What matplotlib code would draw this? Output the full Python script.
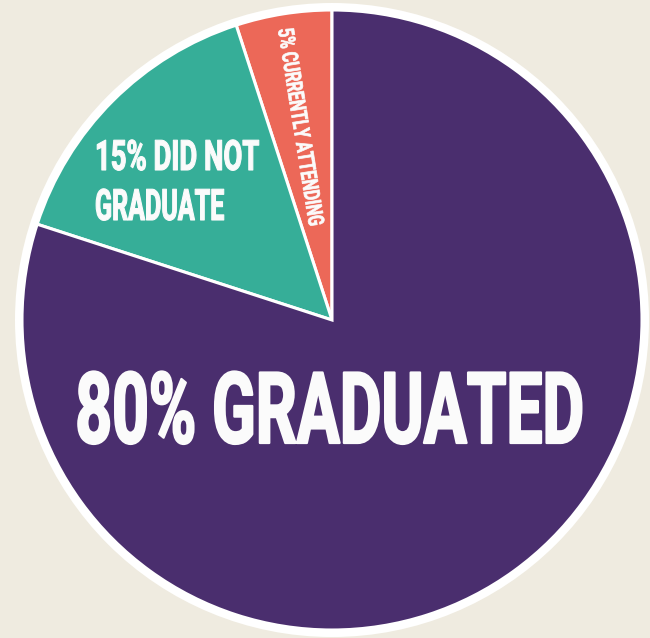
import matplotlib
matplotlib.use("Agg")
import numpy as np
import matplotlib.pyplot as plt
from matplotlib.patches import Circle
from matplotlib.patheffects import AbstractPathEffect
from matplotlib.transforms import Affine2D
from matplotlib import font_manager

# Share of students by outcome (percent), drawn counter-clockwise from 12 o'clock
shares = [5, 15, 80]
outcome_text = ["CURRENTLY ATTENDING", "DID NOT\nGRADUATE", "GRADUATED"]
slice_colors = ["#ec6858", "#36ae98", "#4a2e6e"]

BG = "#efebe0"
INK = "#fbfbfb"
W, H = 650, 638


class Tall(AbstractPathEffect):
    """Stretch glyph outlines upward from the baseline and thicken them a touch."""

    def __init__(self, sy, bold=0.0):
        super().__init__()
        self.sy = sy
        self.bold = bold

    def draw_path(self, renderer, gc, tpath, affine, rgbFace=None):
        tr = Affine2D().scale(1, self.sy) + affine
        if self.bold > 0:
            gc0 = renderer.new_gc()
            gc0.copy_properties(gc)
            gc0.set_linewidth(self.bold)
            gc0.set_foreground(rgbFace)
            gc0.set_joinstyle("round")
            renderer.draw_path(gc0, tpath, tr, rgbFace)
            gc0.restore()
        else:
            renderer.draw_path(gc, tpath, tr, rgbFace)


def pick_family(cands):
    for name in cands:
        try:
            font_manager.findfont(font_manager.FontProperties(family=name),
                                  fallback_to_default=False)
            return name
        except Exception:
            continue
    return "DejaVu Sans"


FAMILY = pick_family(["Liberation Sans Narrow", "Roboto", "Liberation Sans", "DejaVu Sans"])
CAP = 0.716  # cap height as a fraction of the em

fig = plt.figure(figsize=(W / 100, H / 100), dpi=100, facecolor=BG)
ax = fig.add_axes([0, 0, 1, 1])
ax.set_facecolor(BG)

cx, cy, r = 332, 318, 310

# white rim around the disc
ax.add_patch(Circle((cx, cy), r + 7, facecolor="white", edgecolor="none", zorder=0))

wedges, _ = ax.pie(shares, colors=slice_colors, startangle=90, counterclock=True,
                   center=(cx, cy), radius=r,
                   wedgeprops=dict(edgecolor="white", linewidth=2.2, antialiased=True))
for w in wedges:
    w.set_zorder(1)

ax.set_xlim(0, W)
ax.set_ylim(0, H)
ax.set_aspect("equal")
ax.axis("off")

renderer = fig.canvas.get_renderer()


def fit(t, width_px, cap_px, bold):
    """Size a text so it spans width_px, then raise its glyphs to cap_px."""
    w = t.get_window_extent(renderer).width
    fs = t.get_fontsize() * width_px / w
    t.set_fontsize(fs)
    cap_now = fs * 100 / 72 * CAP
    t.set_path_effects([Tall(cap_px / cap_now, bold)])
    return fs


# main slice label
big = ax.text(cx - 2, 195, f"{shares[2]}% {outcome_text[2]}", color=INK,
              family=FAMILY, weight="bold", fontsize=40,
              ha="center", va="baseline", zorder=3)
fit(big, 508, 71, 1.6)

# teal slice label, two lines
line1, line2 = f"{shares[1]}% {outcome_text[1]}".split("\n")
t1 = ax.text(95, 468, line1, color=INK, family=FAMILY, weight="bold",
             fontsize=20, ha="left", va="baseline", zorder=3)
t2 = ax.text(95, 418, line2, color=INK, family=FAMILY, weight="bold",
             fontsize=20, ha="left", va="baseline", zorder=3)
fit(t1, 164, 30, 0.8)
fit(t2, 129, 31, 0.8)

# thin slice label, set radially along the slice bisector
mid = np.deg2rad(90 + shares[0] * 3.6 / 2)
cap_s = 16
rad = 196
px, py = cx + rad * np.cos(mid), cy + rad * np.sin(mid)
rot = np.rad2deg(mid) - 180
up = np.array([-np.sin(np.deg2rad(rot)), np.cos(np.deg2rad(rot))])
bx, by = np.array([px, py]) - up * cap_s / 2
ts = ax.text(bx, by, f"{shares[0]}% {outcome_text[0]}", color=INK, family=FAMILY,
             weight="bold", fontsize=10, ha="center", va="baseline",
             rotation_mode="anchor", zorder=3)
fit(ts, 199, cap_s, 0.5)
ts.set_rotation(rot)

fig.savefig("out.png", dpi=100, facecolor=BG)
